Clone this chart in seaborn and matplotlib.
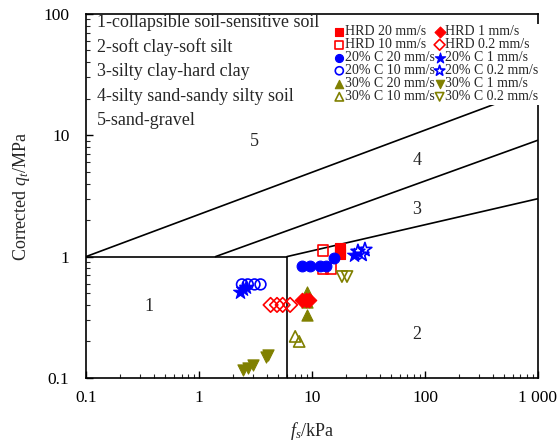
import matplotlib
matplotlib.use("Agg")
import matplotlib.pyplot as plt
import seaborn as sns
import pandas as pd

sns.set_theme(style="white")
plt.rcParams["font.family"] = ["Liberation Serif", "DejaVu Serif"]
plt.rcParams["mathtext.fontset"] = "custom"
plt.rcParams["mathtext.rm"] = "Liberation Serif"
plt.rcParams["mathtext.it"] = "Liberation Serif:italic"

# ---- measured points: sleeve friction fs (kPa) and corrected cone resistance qt (MPa)
hrd20_fs = [17.7, 17.7, 17.7]
hrd20_qt = [1.18, 1.12, 1.06]
hrd10_fs = [12.5, 12.5, 14.7]
hrd10_qt = [1.12, 0.80, 0.80]
c20_20_fs = [8.2, 9.6, 11.8, 13.3, 15.7]
c20_20_qt = [0.84, 0.84, 0.84, 0.84, 0.98]
c20_10_fs = [2.4, 2.7, 3.1, 3.5]
c20_10_qt = [0.59, 0.59, 0.59, 0.59]
c30_20_fs = [9.0, 9.0, 9.0]
c30_20_qt = [0.51, 0.42, 0.33]
c30_10_fs = [7.1, 7.7]
c30_10_qt = [0.22, 0.20]
hrd1_fs = [8.2, 8.9, 9.4]
hrd1_qt = [0.44, 0.44, 0.44]
hrd02_fs = [4.3, 4.9, 5.5, 6.4]
hrd02_qt = [0.40, 0.40, 0.40, 0.40]
c20_1_fs = [2.3, 2.45, 2.6, 23.5]
c20_1_qt = [0.51, 0.54, 0.56, 1.04]
c20_02_fs = [25.5, 27.7, 29.4]
c20_02_qt = [1.10, 1.04, 1.14]
c30_1_fs = [2.45, 2.7, 3.0, 3.9, 4.1]
c30_1_qt = [0.116, 0.121, 0.128, 0.149, 0.154]
c30_02_fs = [18.4, 20.4]
c30_02_qt = [0.685, 0.685]

# ---- soil classification zone boundaries (fs, qt)
box_fs = [0.1, 6.0, 6.0]
box_qt = [1.0, 1.0, 0.1]
line5_fs = [0.1, 1000]
line5_qt = [1.0, 24.5]
line45_fs = [1.4, 1000]
line45_qt = [1.0, 9.1]
line34_fs = [6.0, 1000]
line34_qt = [1.0, 3.0]

zone_names = ["1-collapsible soil-sensitive soil", "2-soft clay-soft silt",
              "3-silty clay-hard clay", "4-silty sand-sandy silty soil",
              "5-sand-gravel"]
zone_ids = ["1", "2", "3", "4", "5"]
zone_fs = [0.36, 85, 85, 85, 3.1]
zone_qt = [0.39, 0.23, 2.43, 6.2, 8.9]

RED, BLUE, OLIVE = "#ff0000", "#0000ff", "#808000"

# (label, fs, qt, colour, marker, filled, size)
series = [
    ("HRD 20 mm/s", hrd20_fs, hrd20_qt, RED, "s", True, 55),
    ("HRD 10 mm/s", hrd10_fs, hrd10_qt, RED, "s", False, 55),
    ("20% C 20 mm/s", c20_20_fs, c20_20_qt, BLUE, "o", True, 60),
    ("20% C 10 mm/s", c20_10_fs, c20_10_qt, BLUE, "o", False, 60),
    ("30% C 20 mm/s", c30_20_fs, c30_20_qt, OLIVE, "^", True, 65),
    ("30% C 10 mm/s", c30_10_fs, c30_10_qt, OLIVE, "^", False, 65),
    ("HRD 1 mm/s", hrd1_fs, hrd1_qt, RED, "D", True, 55),
    ("HRD 0.2 mm/s", hrd02_fs, hrd02_qt, RED, "D", False, 55),
    ("20% C 1 mm/s", c20_1_fs, c20_1_qt, BLUE, "*", True, 110),
    ("20% C 0.2 mm/s", c20_02_fs, c20_02_qt, BLUE, "*", False, 110),
    ("30% C 1 mm/s", c30_1_fs, c30_1_qt, OLIVE, "v", True, 65),
    ("30% C 0.2 mm/s", c30_02_fs, c30_02_qt, OLIVE, "v", False, 65),
]

fig = plt.figure(figsize=(5.6, 4.46), dpi=100)
ax = fig.add_axes([0.1536, 0.1525, 0.8071, 0.8165])

ax.set_xscale("log")
ax.set_yscale("log")
ax.set_xlim(0.1, 1000)
ax.set_ylim(0.1, 100)

lk = dict(color="black", lw=1.2, zorder=1)
ax.plot(box_fs, box_qt, **lk)
ax.plot(line5_fs, line5_qt, **lk)
ax.plot(line45_fs, line45_qt, **lk)
ax.plot(line34_fs, line34_qt, **lk)

for label, fs, qt, col, mk, filled, size in series:
    df = pd.DataFrame({"fs": fs, "qt": qt})
    if filled:
        sns.scatterplot(data=df, x="fs", y="qt", ax=ax, marker=mk, s=size,
                        color=col, edgecolor=col, linewidth=0.8,
                        label=label, zorder=3)
    else:
        sns.scatterplot(data=df, x="fs", y="qt", ax=ax, marker=mk, s=size,
                        color=col, facecolor="none", edgecolor=col,
                        linewidth=1.2, label=label, zorder=3)

for zid, zx, zy in zip(zone_ids, zone_fs, zone_qt):
    ax.text(zx, zy, zid, fontsize=13, ha="center", va="center")

for i, name in enumerate(zone_names):
    ax.text(0.024, 0.976 - i * 0.0675, name, transform=ax.transAxes,
            fontsize=13, ha="left", va="center", zorder=6)

leg = ax.legend(ncol=2, loc="upper right", bbox_to_anchor=(1.004, 0.972),
                fontsize=10, labelspacing=0.0, handlelength=0.5,
                handletextpad=0.15, columnspacing=0.1, borderpad=0.1,
                borderaxespad=0.0, frameon=True, fancybox=False,
                edgecolor="none", framealpha=1.0, markerscale=0.75)
leg.set_zorder(5)

ax.set_xticks([0.1, 1, 10, 100, 1000])
ax.set_xticklabels(["0.1", "1", "10", "100", "1 000"])
ax.set_yticks([0.1, 1, 10, 100])
ax.set_yticklabels(["0.1", "1", "10", "100"])
ax.tick_params(axis="both", which="major", direction="in", length=5,
               width=1, labelsize=12.5, colors="black",
               top=False, right=False, bottom=True, left=True)
ax.tick_params(axis="x", which="major", pad=9)
ax.tick_params(axis="y", which="major", pad=12)
ax.tick_params(axis="both", which="minor", direction="in", length=3,
               width=0.8, top=False, right=False, bottom=True, left=True)
for sp in ax.spines.values():
    sp.set_color("black")
    sp.set_linewidth(1.2)

ax.set_xlabel("$f_s$/kPa", fontsize=13, labelpad=10)
ax.set_ylabel("Corrected $q_t$/MPa", fontsize=13, labelpad=8)

fig.savefig("out.png", dpi=100)
